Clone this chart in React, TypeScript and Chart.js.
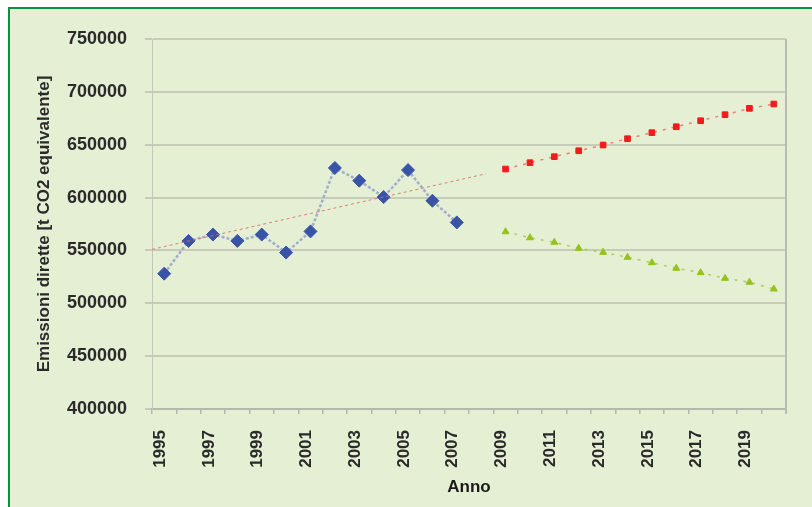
import React, { useEffect, useRef } from "react";
import { Chart, registerables } from "chart.js";

Chart.register(...registerables);

const years = [
  "1995","1996","1997","1998","1999","2000","2001","2002","2003","2004","2005","2006","2007",
  "2008","2009","2010","2011","2012","2013","2014","2015","2016","2017","2018","2019","2020",
];

const historical = [
  528000, 559000, 565000, 559000, 565000, 548000, 568000, 628000, 616000, 600500, 626000, 597000, 576500,
  null, null, null, null, null, null, null, null, null, null, null, null, null,
];

const scenarioHigh = [
  null, null, null, null, null, null, null, null, null, null, null, null, null, null,
  627000, 633000, 638700, 644300, 649700, 655700, 661400, 667000, 672700, 678400, 684400, 688500,
];

const scenarioLow = [
  null, null, null, null, null, null, null, null, null, null, null, null, null, null,
  567700, 562000, 557700, 552000, 548200, 543500, 538400, 533100, 529000, 523600, 519900, 513500,
];

const trendYears = [1994.5, 2008.2];
const trendValues = [551000, 622500];

const yTicks = [400000, 450000, 500000, 550000, 600000, 650000, 700000, 750000];

const FONT = "'Liberation Sans', Arial, sans-serif";

const rightBorder = {
  id: "rightBorder",
  beforeDatasetsDraw(chart: any) {
    const { ctx, chartArea } = chart;
    ctx.save();
    ctx.strokeStyle = "#b9bdae";
    ctx.lineWidth = 2;
    ctx.beginPath();
    ctx.moveTo(chartArea.right, chartArea.top);
    ctx.lineTo(chartArea.right, chartArea.bottom + 5);
    ctx.stroke();
    ctx.restore();
  },
};

export default function App() {
  const ref = useRef<HTMLCanvasElement>(null);

  useEffect(() => {
    if (!ref.current) return;
    const chart = new Chart(ref.current, {
      type: "line",
      data: {
        labels: years,
        datasets: [
          {
            label: "trend",
            data: trendYears.map((x, i) => ({ x, y: trendValues[i] })),
            xAxisID: "x2",
            borderColor: "rgba(215,110,100,0.85)",
            borderWidth: 1,
            borderDash: [3, 3],
            pointRadius: 0,
            fill: false,
          },
          {
            label: "storico",
            data: historical,
            borderColor: "rgba(160,168,205,0.95)",
            borderWidth: 2.5,
            borderDash: [3, 2],
            pointStyle: "rectRot",
            pointRadius: 6.5,
            pointBackgroundColor: "#3953a7",
            pointBorderColor: "#3953a7",
            pointBorderWidth: 1,
            spanGaps: false,
          },
          {
            label: "alto",
            data: scenarioHigh,
            borderColor: "rgba(240,80,80,0.7)",
            borderWidth: 1.5,
            borderDash: [3, 6],
            pointStyle: "rect",
            pointRadius: 4,
            pointBackgroundColor: "#f01c1c",
            pointBorderColor: "#f01c1c",
            pointBorderWidth: 1,
          },
          {
            label: "basso",
            data: scenarioLow,
            borderColor: "rgba(150,195,40,0.7)",
            borderWidth: 1.5,
            borderDash: [3, 6],
            pointStyle: "triangle",
            pointRadius: 4,
            pointBackgroundColor: "#97c11c",
            pointBorderColor: "#97c11c",
            pointBorderWidth: 1,
          },
        ],
      },
      options: {
        responsive: true,
        maintainAspectRatio: false,
        animation: false,
        layout: { padding: { top: 30, right: 26, left: 0, bottom: 0 } },
        plugins: {
          legend: { display: false },
          tooltip: { enabled: false },
        },
        scales: {
          x: {
            type: "category",
            offset: true,
            grid: {
              offset: true,
              drawOnChartArea: false,
              drawTicks: true,
              tickLength: 5,
              color: "#b4b8aa",
              lineWidth: 1.5,
            },
            border: { display: true, color: "#b4b8aa", width: 2 },
            ticks: {
              autoSkip: false,
              maxRotation: 90,
              minRotation: 90,
              padding: 16,
              labelOffset: -4,
              color: "#2a2a2a",
              font: { family: FONT, size: 17, weight: "bold" },
              callback: (_v: any, i: number) => (i % 2 === 0 ? years[i] : ""),
            },
            title: {
              display: true,
              text: "Anno",
              color: "#1a1a1a",
              font: { family: FONT, size: 17, weight: "bold" },
              padding: { top: 0, bottom: 9 },
            },
            afterFit: (s: any) => {
              s.height = 98;
            },
          },
          x2: {
            type: "linear",
            display: false,
            min: 1994.5,
            max: 2020.5,
          },
          y: {
            type: "linear",
            min: 400000,
            max: 750000,
            afterBuildTicks: (s: any) => {
              s.ticks = yTicks.map((v) => ({ value: v }));
            },
            grid: {
              color: "#c7ccb9",
              lineWidth: 2,
              tickLength: 7,
            },
            border: { display: true, color: "#c3c7b6", width: 1 },
            ticks: {
              padding: 18,
              color: "#2a2a2a",
              font: { family: FONT, size: 18, weight: "bold" },
              callback: (v: any) => String(v),
            },
            title: {
              display: true,
              text: "Emissioni dirette [t CO2 equivalente]",
              color: "#2a2a2a",
              font: { family: FONT, size: 17, weight: "bold" },
              padding: { top: 24, bottom: 0 },
            },
            afterFit: (s: any) => {
              s.width = 142;
            },
          },
        },
      },
      plugins: [rightBorder],
    });
    return () => chart.destroy();
  }, []);

  return (
    <div
      style={{
        position: "fixed",
        left: 8,
        top: 7,
        right: 0,
        bottom: 0,
        borderTop: "2px solid #009640",
        borderLeft: "2px solid #009640",
        background: "#e5efd4",
      }}
    >
      <div style={{ position: "relative", width: "100%", height: "100%" }}>
        <canvas ref={ref} />
      </div>
    </div>
  );
}
